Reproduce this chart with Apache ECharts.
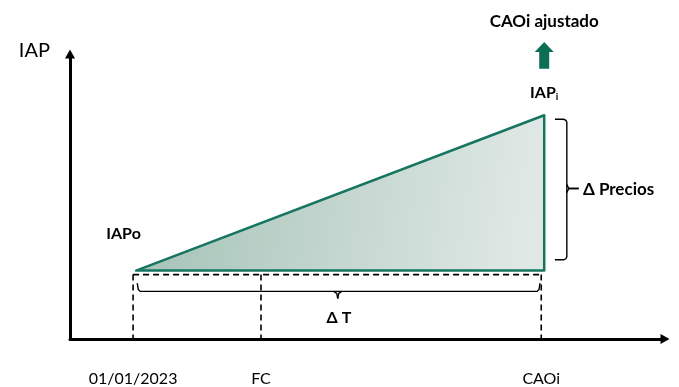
<!DOCTYPE html>
<html>
<head>
<meta charset="utf-8">
<script src="https://cdn.jsdelivr.net/npm/echarts@6/dist/echarts.min.js"></script>
<style>
  html, body { margin: 0; padding: 0; background: #ffffff; }
  #chart { width: 679px; height: 387px; }
</style>
</head>
<body>
<div id="chart"></div>
<script>
// Time markers on the horizontal axis (abstract time units)
const timeLabels = ['01/01/2023', 'FC', 'CAOi'];
const timeValues = [10.6, 32.1, 79.2];
// Index levels: initial (IAPo) and final (IAPi)
const iapLabels = ['IAPo', 'IAPi'];
const iapValues = [24.0, 78.5];
// Horizontal extent of the adjustment triangle
const triangleStart = 11.1;
const triangleEnd = 79.7;
// Dashed reference level under the triangle base
const baseLevel = 22.6;
// ΔT brace: start, end, middle and levels (top of ends, bar, middle tip)
const braceT = { x: [11.3, 79.0, 45.0], y: [19.6, 16.7, 14.2] };
// ΔPrecios brace: x of ends, bar, middle tip; y of top, bottom, middle
const braceP = { x: [81.5, 83.5, 85.5], y: [77.1, 27.8, 52.8] };
// Annotation positions
const notes = [
  { text: 'CAOi ajustado', x: 79.7, y: 111.5, size: 17, align: 'center' },
  { text: 'Δ Precios', x: 86.2, y: 52.3, size: 17, align: 'left' },
  { text: 'Δ T', x: 45.2, y: 7.3, size: 16, align: 'center' }
];
const upArrow = { x: 79.7, y: [94.8, 104.2] };

const FONT = 'Lato, "Open Sans", sans-serif';
const GREEN = '#167560';
const chart = echarts.init(document.getElementById('chart'));

function renderDiagram(params, api) {
  const c = (x, y) => api.coord([x, y]);
  const children = [];

  // Triangle: IAPo -> IAPi growth
  const p0 = c(triangleStart, iapValues[0]);
  const p1 = c(triangleEnd, iapValues[1]);
  const p2 = c(triangleEnd, iapValues[0]);
  children.push({
    type: 'polygon',
    shape: { points: [p0, p1, p2] },
    style: {
      fill: new echarts.graphic.LinearGradient(0, 0, 1, 0.4, [
        { offset: 0, color: '#a2c1b5' },
        { offset: 1, color: '#e1e9e6' }
      ]),
      stroke: GREEN,
      lineWidth: 2.5,
      lineJoin: 'round'
    }
  });

  // Dashed base level and dashed drop lines to the time axis
  const dash = { stroke: '#000', lineWidth: 1.6, lineDash: [6, 4], fill: null };
  const d0 = c(timeValues[0], baseLevel), d1 = c(timeValues[2], baseLevel);
  children.push({ type: 'line', shape: { x1: d0[0], y1: d0[1], x2: d1[0], y2: d1[1] }, style: dash });
  timeValues.forEach(function (t) {
    const a = c(t, baseLevel), b = c(t, -1.7);
    children.push({ type: 'line', shape: { x1: a[0], y1: a[1], x2: b[0], y2: b[1] }, style: dash });
  });

  // ΔT brace
  const braceStyle = { stroke: '#000', lineWidth: 1.4, fill: null };
  const tL = c(braceT.x[0], braceT.y[0]), tLb = c(braceT.x[0], braceT.y[1]);
  const tR = c(braceT.x[1], braceT.y[0]), tRb = c(braceT.x[1], braceT.y[1]);
  const tM = c(braceT.x[2], braceT.y[1]), tMb = c(braceT.x[2], braceT.y[2]);
  children.push({ type: 'polyline', shape: { points: [tL, [tL[0] + 1, tLb[1] - 2], [tL[0] + 3, tLb[1]], [tR[0] - 3, tRb[1]], [tR[0] - 1, tRb[1] - 2], tR] }, style: braceStyle });
  children.push({ type: 'polyline', shape: { points: [[tM[0] - 4, tM[1]], [tM[0] - 1, tM[1] + 2], tMb] }, style: braceStyle });
  children.push({ type: 'polyline', shape: { points: [[tM[0] + 4, tM[1]], [tM[0] + 1, tM[1] + 2], tMb] }, style: braceStyle });

  // ΔPrecios brace
  const pT = c(braceP.x[0], braceP.y[0]), pB = c(braceP.x[0], braceP.y[1]);
  const bx = c(braceP.x[1], 0)[0];
  const pM = c(braceP.x[1], braceP.y[2]), pMt = c(braceP.x[2], braceP.y[2]);
  children.push({ type: 'polyline', shape: { points: [pT, [bx - 3, pT[1]], [bx - 1, pT[1] + 1], [bx, pT[1] + 3], [bx, pB[1] - 3], [bx - 1, pB[1] - 1], [bx - 3, pB[1]], pB] }, style: braceStyle });
  children.push({ type: 'polyline', shape: { points: [[bx, pM[1] - 4], [bx + 2, pM[1]], pMt] }, style: braceStyle });
  children.push({ type: 'polyline', shape: { points: [[bx, pM[1] + 4], [bx + 2, pM[1]], pMt] }, style: braceStyle });

  // Green upward arrow above IAPi
  const aB = c(upArrow.x, upArrow.y[0]), aT = c(upArrow.x, upArrow.y[1]);
  const headH = 10, headW = 9.5, stemW = 5;
  children.push({
    type: 'polygon',
    shape: { points: [
      [aT[0], aT[1]], [aT[0] + headW, aT[1] + headH], [aT[0] + stemW, aT[1] + headH],
      [aB[0] + stemW, aB[1]], [aB[0] - stemW, aB[1]], [aT[0] - stemW, aT[1] + headH],
      [aT[0] - headW, aT[1] + headH]
    ] },
    style: { fill: '#0c6e57' }
  });

  // Index labels
  const lo = c(timeValues[0] - 1.6, iapValues[0] + 12.8);
  children.push({ type: 'text', x: lo[0], y: lo[1], style: { text: iapLabels[0], font: 'bold 16px ' + FONT, fill: '#000', align: 'center', verticalAlign: 'middle' } });
  const hi = c(triangleEnd, iapValues[1] + 8);
  children.push({
    type: 'text', x: hi[0], y: hi[1],
    style: {
      text: '{b|' + iapLabels[1].slice(0, 3) + '}{s|' + iapLabels[1].slice(3) + '}', align: 'center', verticalAlign: 'middle',
      rich: {
        b: { font: 'bold 16px ' + FONT, fill: '#000' },
        s: { font: 'bold 10px ' + FONT, fill: '#000', padding: [9, 0, 0, 0] }
      }
    }
  });

  // Annotations
  notes.forEach(function (n) {
    const p = c(n.x, n.y);
    children.push({
      type: 'text', x: p[0], y: p[1],
      style: { text: n.text, font: 'bold ' + n.size + 'px ' + FONT, fill: '#000', align: n.align, verticalAlign: 'middle' }
    });
  });

  return { type: 'group', children: children };
}

chart.setOption({
  animation: false,
  backgroundColor: '#ffffff',
  grid: { left: 70, right: 14, top: 54, bottom: 45 },
  xAxis: {
    type: 'value', min: 0, max: 100,
    splitLine: { show: false },
    axisTick: { show: false },
    axisLine: { show: true, lineStyle: { color: '#000', width: 3 }, symbol: ['none', 'triangle'], symbolSize: [10, 9] },
    axisLabel: {
      customValues: timeValues,
      formatter: function (v) { return timeLabels[timeValues.indexOf(v)]; },
      margin: 32, color: '#000', fontFamily: FONT, fontSize: 16
    }
  },
  yAxis: {
    type: 'value', min: 0, max: 100,
    name: 'IAP', nameLocation: 'end', nameGap: 3,
    nameTextStyle: { color: '#000', fontFamily: FONT, fontSize: 20, align: 'right', verticalAlign: 'middle', padding: [0, 20, 0, 0] },
    splitLine: { show: false },
    axisTick: { show: false },
    axisLabel: { show: false },
    axisLine: { show: true, lineStyle: { color: '#000', width: 3 }, symbol: ['none', 'triangle'], symbolSize: [10, 9] }
  },
  series: [{
    type: 'custom',
    clip: false,
    renderItem: renderDiagram,
    data: [[timeValues[0], iapValues[0]]],
    silent: true
  }]
});
</script>
</body>
</html>
